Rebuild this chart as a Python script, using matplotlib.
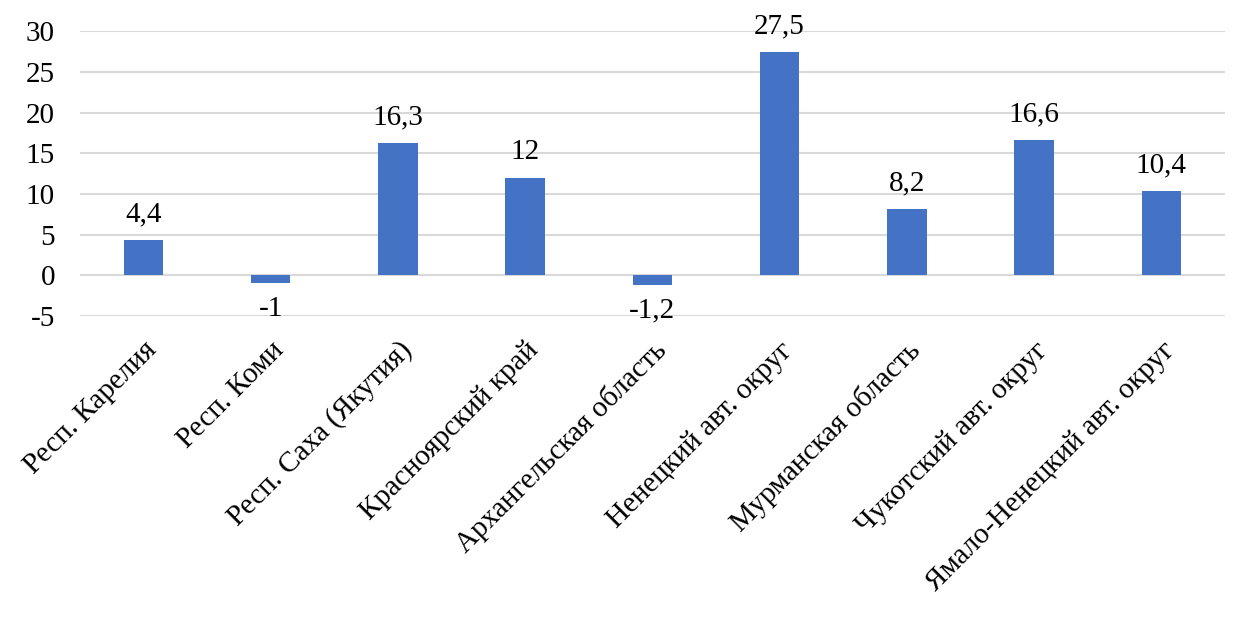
import matplotlib
matplotlib.use("Agg")
import matplotlib.pyplot as plt

categories = ["Респ. Карелия", "Респ. Коми", "Респ. Саха (Якутия)", "Красноярский край",
              "Архангельская область", "Ненецкий авт. округ", "Мурманская область",
              "Чукотский авт. округ", "Ямало-Ненецкий авт. округ"]
values = [4.4, -1, 16.3, 12, -1.2, 27.5, 8.2, 16.6, 10.4]
yticks = [-5, 0, 5, 10, 15, 20, 25, 30]

plt.rcParams['font.family'] = ['Liberation Serif', 'DejaVu Serif']

fig = plt.figure(figsize=(12.55, 6.24), dpi=100)
ax = fig.add_axes([0.0637, 0.4936, 0.9123, 0.4564])
x = list(range(len(categories)))
bars = ax.bar(x, values, width=0.31, color='#4472C4', zorder=3)
ax.set_xlim(-0.5, len(categories) - 0.5)
ax.set_ylim(-5, 30)
ax.set_yticks(yticks)
ax.set_yticklabels([str(t) for t in yticks], fontsize=21)
ax.yaxis.grid(True, color='#d9d9d9', linewidth=1.5, zorder=0)
ax.set_axisbelow(True)
for s in ax.spines.values():
    s.set_visible(False)
ax.tick_params(axis='y', length=0, pad=18)
ax.set_xticks(x)
ax.set_xticklabels(categories, rotation=45, ha='right', rotation_mode='anchor', fontsize=21)
ax.tick_params(axis='x', length=0, pad=15)
labels = [f"{v:g}".replace('.', ',') for v in values]
ax.bar_label(bars, labels=labels, padding=9, fontsize=21)
fig.savefig("out.png", dpi=100)
